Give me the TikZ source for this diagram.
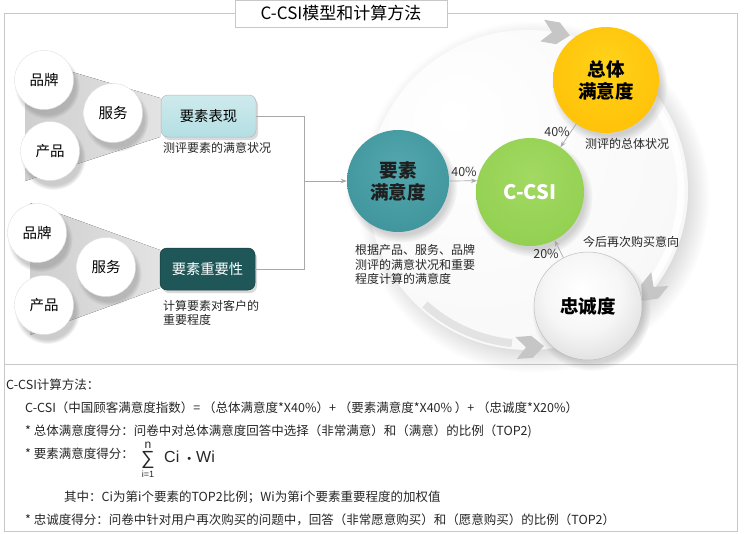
\documentclass[tikz,border=0pt]{standalone}
\usepackage{fontspec}
\setmainfont{Noto Sans CJK SC}
\newfontfamily\arial{Liberation Sans}
\usetikzlibrary{shadows,arrows.meta}
\definecolor{framec}{HTML}{C8C8C8}
\definecolor{lineg}{HTML}{A8A8A8}
\definecolor{yelL}{HTML}{FFD21A}
\definecolor{yelM}{HTML}{FFC107}
\definecolor{yelD}{HTML}{F0A800}
\definecolor{grnL}{HTML}{A2D962}
\definecolor{grnM}{HTML}{92D050}
\definecolor{grnD}{HTML}{78BC3C}
\definecolor{tealL}{HTML}{52A6AC}
\definecolor{tealM}{HTML}{40959C}
\definecolor{tealD}{HTML}{2B767C}
\definecolor{boxA}{HTML}{B4DFE3}
\definecolor{boxB}{HTML}{1F5759}
\colorlet{wEdge}{gray!22}
\colorlet{sA}{gray!7}
\colorlet{sB}{gray!28}
\colorlet{sB2}{gray!45}
\colorlet{sC}{gray!60}
\colorlet{dA}{gray!5}
\colorlet{dB}{gray!14}
\colorlet{dC}{gray!22}
\pgfdeclareradialshading{ballw}{\pgfpoint{-4bp}{6bp}}{color(0bp)=(white); color(30bp)=(white); color(50bp)=(wEdge); color(70bp)=(wEdge)}
\pgfdeclareradialshading{yel}{\pgfpoint{0bp}{8bp}}{color(0bp)=(yelL); color(32bp)=(yelM); color(46bp)=(yelM); color(50bp)=(yelD); color(70bp)=(yelD)}
\pgfdeclareradialshading{grn}{\pgfpoint{0bp}{8bp}}{color(0bp)=(grnL); color(32bp)=(grnM); color(46bp)=(grnM); color(50bp)=(grnD); color(70bp)=(grnD)}
\pgfdeclareradialshading{tealsh}{\pgfpoint{0bp}{8bp}}{color(0bp)=(tealL); color(32bp)=(tealM); color(46bp)=(tealM); color(50bp)=(tealD); color(70bp)=(tealD)}
\pgfdeclareradialshading{silver}{\pgfpoint{-3bp}{8bp}}{color(0bp)=(white); color(18bp)=(sA); color(34bp)=(sB); color(46bp)=(sB2); color(50bp)=(sC); color(70bp)=(sC)}
\pgfdeclareradialshading{disk}{\pgfpoint{-12bp}{12bp}}{color(0bp)=(white); color(30bp)=(dA); color(47bp)=(dB); color(50bp)=(dC); color(70bp)=(dC)}
\begin{document}
\begin{tikzpicture}[x=1pt,y=1pt,
  every node/.style={inner sep=0pt},
  conn/.style={draw=lineg, line width=0.7pt},
  arr/.style={conn, -{Stealth[length=6pt,width=4.5pt]}},
  smallc/.style={circle, minimum size=59pt, shade, shading=ballw, draw=gray!25, line width=0.4pt,
    circular drop shadow={shadow xshift=3pt, shadow yshift=-6pt, opacity=0.4},
    font=\fontsize{14.5}{16}\selectfont},
  bigc/.style={circle, minimum size=#1, shade, line width=0.5pt,
    circular drop shadow={shadow xshift=3pt, shadow yshift=-5pt, opacity=0.35},
    align=center, font=\fontsize{18.5}{22}\selectfont\bfseries},
  boxst/.style={rounded corners=7pt, minimum width=95pt, minimum height=42pt, draw=gray!55,
    line width=0.5pt, drop shadow={shadow xshift=2pt, shadow yshift=-3pt, opacity=0.3},
    font=\fontsize{14.3}{16}\selectfont},
  captxt/.style={font=\fontsize{12}{14.5}\selectfont, align=left, text=black!85},
  pct/.style={font=\fontsize{12.5}{14}\selectfont, text=black!80},
  bodytxt/.style={font=\fontsize{12.5}{14}\selectfont, anchor=west, text=black!85},
  funnel/.style={left color=gray!38, right color=gray!22, draw=none},
  chevron/.pic={\fill[gray!45] (-14,-11) -- (2,-11) -- (14,0) -- (2,11) -- (-14,11) -- (-4,0) -- cycle;}
]
\useasboundingbox (0,0) rectangle (746,-533);
% frame
\draw[framec, line width=0.8pt] (4,-13) rectangle (737,-531);
\draw[framec, line width=0.8pt] (4,-364) -- (737,-364);
% big cycle disk
\path[shade, shading=disk, circular drop shadow={shadow xshift=5pt, shadow yshift=-6pt, opacity=0.3}]
  (528,-190) circle[radius=160];
\draw[white, line width=7pt, opacity=0.9] (528,-190) ++(65:153) arc[start angle=65, end angle=-38, radius=153];
\draw[gray!22, line width=8pt] (528,-190) ++(-132:154) arc[start angle=-132, end angle=-96, radius=154];
\pic[rotate=-10] at (556,-33) {chevron};
\pic[rotate=-129] at (651,-290) {chevron};
\pic[rotate=4] at (530,-347) {chevron};
% title
\node[draw=framec, fill=white, minimum width=212pt, minimum height=27pt,
  font=\fontsize{17}{20}\selectfont, line width=0.8pt] (title) at (341,-13.5) {C-CSI模型和计算方法};
% left funnels
\fill[funnel] (25,-58) -- (160,-98) -- (160,-137) -- (25,-181) -- cycle;
\fill[funnel] (30,-203) -- (160,-250) -- (160,-288) -- (30,-335) -- cycle;
\node[smallc] (pp1) at (44,-80) {品牌};
\node[smallc] (fw1) at (113,-113) {服务};
\node[smallc] (cp1) at (50,-151) {产品};
\node[smallc] (pp2) at (37,-233) {品牌};
\node[smallc] (fw2) at (106,-267) {服务};
\node[smallc] (cp2) at (44,-305) {产品};
\node[boxst, top color=boxA!65!white, bottom color=boxA] (b1) at (208.5,-116) {要素表现};
\node[boxst, fill=boxB, text=white, draw=boxB!70!black] (b2) at (207.5,-269) {要素重要性};
\node[captxt, anchor=west] (b1c) at (163,-148) {测评要素的满意状况};
\node[captxt, anchor=north west, font=\fontsize{12}{14}\selectfont] (b2c) at (163,-300.5) {计算要素对客户的\\重要程度};
% main circles
\node[bigc=102pt, shading=tealsh, text=black!88] (ys) at (398,-181) {要素\\满意度};
\node[bigc=108pt, shading=grn, text=white, font=\fontsize{20}{22}\selectfont\bfseries] (cc) at (530,-192) {C-CSI};
\node[bigc=106pt, shading=yel, text=black] (zt) at (606,-80) {总体\\满意度};
\node[bigc=108pt, shading=silver, draw=gray!50, text=black] (zc) at (588,-306) {忠诚度};
% connectors
\coordinate (j) at (304,-181);
\draw[conn] (b1.east) -| (j);
\draw[conn] (b2.east) -| (j);
\draw[arr] (j) -- (ys.west);
\draw[arr] (ys.east) -- (cc.168);
\draw[arr] (zt) -- (cc);
\draw[arr] (zc) -- (cc);
% labels
\node[pct] (p1) at (557,-132) {40\%};
\node[pct] (p2) at (464,-172) {40\%};
\node[pct] (p3) at (546,-254) {20\%};
\node[captxt, anchor=west] (c1) at (585,-144) {测评的总体状况};
\node[captxt, anchor=west] (c2) at (583,-242) {今后再次购买意向};
\node[captxt, anchor=north west] (c3) at (355,-244.5) {根据产品、服务、品牌\\测评的满意状况和重要\\程度计算的满意度};
% bottom text
\node[bodytxt] (t1) at (6,-385) {C-CSI计算方法：};
\node[bodytxt] (t2) at (25,-408) {C-CSI（中国顾客满意度指数）= （总体满意度*X40\%）+ （要素满意度*X40\% ）+ （忠诚度*X20\%）};
\node[bodytxt] (t3) at (25,-431) {* 总体满意度得分：问卷中对总体满意度回答中选择（非常满意）和（满意）的比例（TOP2)};
\node[bodytxt] (t4) at (25,-454) {* 要素满意度得分：};
\node[anchor=base, font=\arial\fontsize{19}{19}\selectfont, text=black!85] (sig) at (148,-464) {∑};
\node[anchor=base, font=\arial\fontsize{12}{12}\selectfont, text=black!85] (sn) at (148,-448) {n};
\node[anchor=base, font=\arial\fontsize{9}{9}\selectfont, text=black!85] (si) at (148,-477) {i=1};
\node[anchor=west, font=\arial\fontsize{16}{16}\selectfont, text=black!85] (ciwi) at (164,-457) {Ci\hspace{8pt}{\fontsize{11}{11}\selectfont •}\hspace{5pt}Wi};
\node[bodytxt] (t5) at (64,-497) {其中：Ci为第i个要素的TOP2比例；Wi为第i个要素重要程度的加权值};
\node[bodytxt] (t6) at (25,-520) {* 忠诚度得分：问卷中针对用户再次购买的问题中，回答（非常愿意购买）和（愿意购买）的比例（TOP2）};
\end{tikzpicture}
\end{document}
